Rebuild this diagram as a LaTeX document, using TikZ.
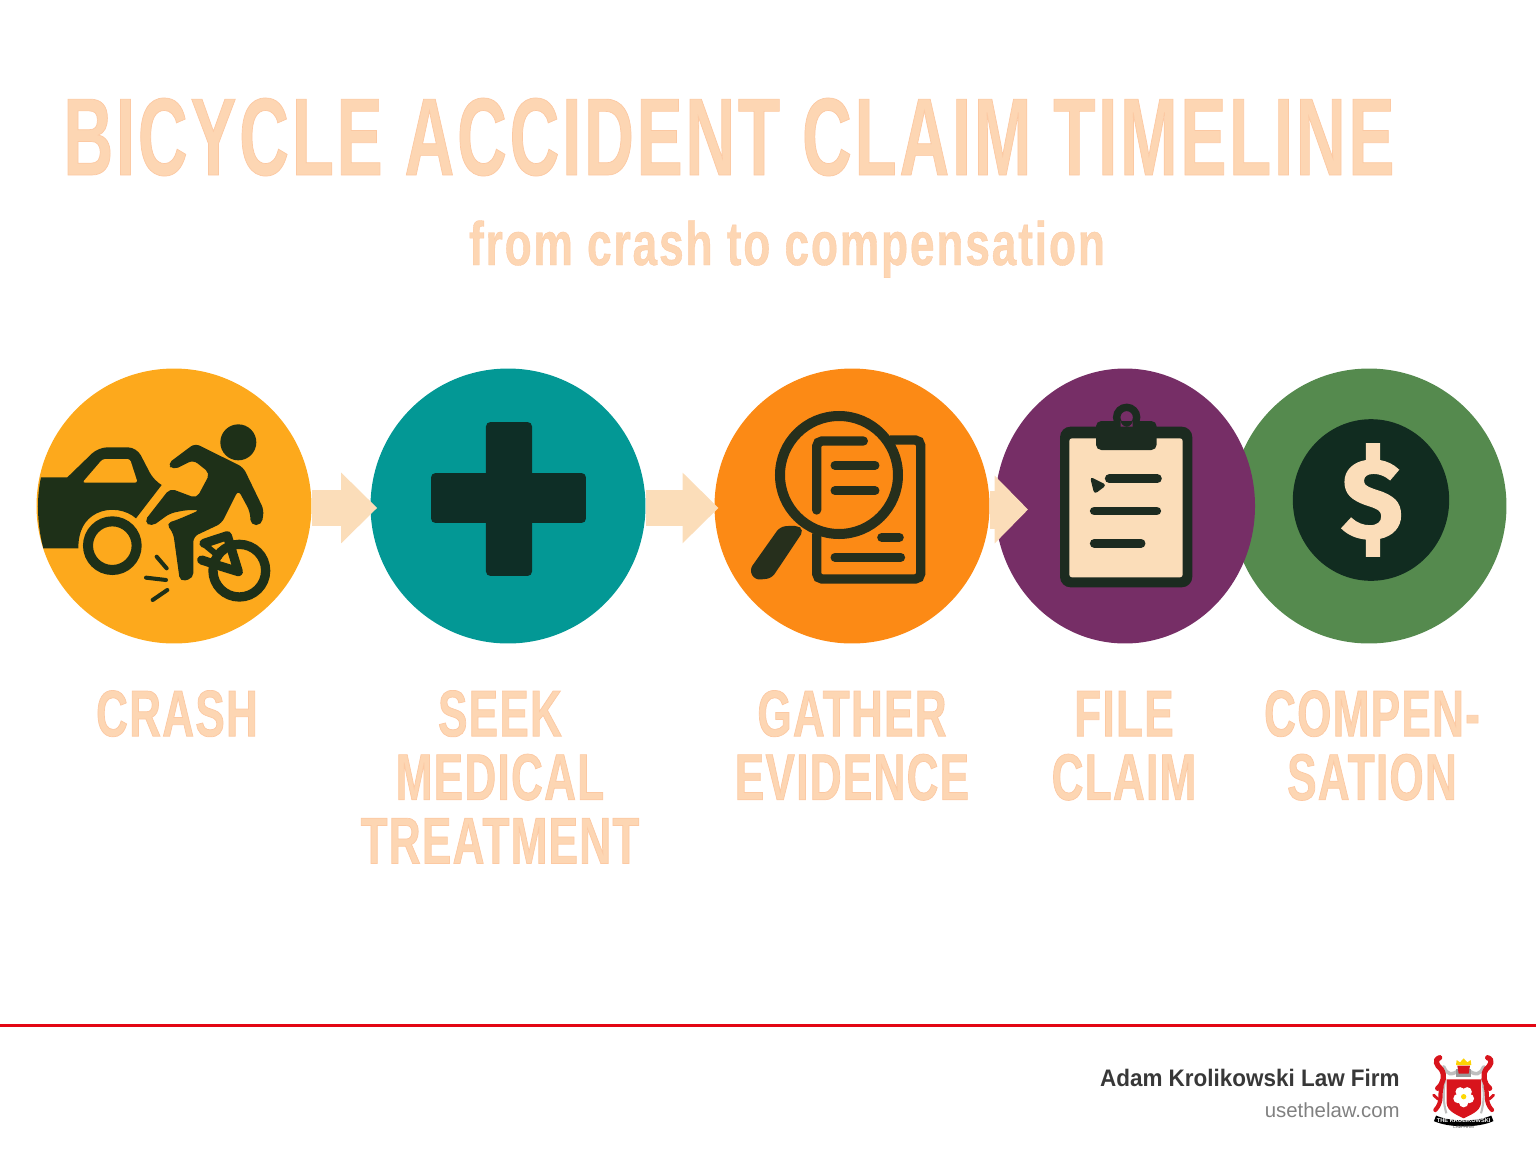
\documentclass[tikz,border=0pt]{standalone}
\usepackage{fontspec}
\setmainfont{Liberation Sans}
\newfontfamily\titlefont[FakeStretch=0.625,LetterSpace=2.5]{Liberation Sans}
\newfontfamily\subfont[FakeStretch=0.72,LetterSpace=3]{Liberation Sans}
\newfontfamily\condfont[FakeStretch=0.67,LetterSpace=2]{Liberation Sans}
\newfontfamily\firmfont[FakeStretch=0.94]{Liberation Sans}
\newfontfamily\signfont{Fira Sans}
\usetikzlibrary{arrows.meta,shapes.geometric}

\definecolor{crashfill}{HTML}{FDA91C}
\definecolor{medicalfill}{HTML}{039895}
\definecolor{evidencefill}{HTML}{FC8A15}
\definecolor{claimfill}{HTML}{762E66}
\definecolor{payfill}{HTML}{558A4E}
\definecolor{crashdark}{HTML}{1E3018}
\definecolor{medicaldark}{HTML}{0E2E26}
\definecolor{evidencedark}{HTML}{262F1C}
\definecolor{claimdark}{HTML}{1C2B20}
\definecolor{paydark}{HTML}{112C20}
\definecolor{peach}{HTML}{FBDDB9}
\definecolor{headline}{HTML}{FDD6B3}
\definecolor{rulered}{HTML}{E30613}
\definecolor{crestred}{HTML}{D8141C}

\newcommand{\rimon}{\special{pdf:code 2 Tr 0.4 w 0.99 0.79 0.64 RG}}
\newcommand{\rimthin}{\special{pdf:code 2 Tr 0.2 w 0.99 0.79 0.64 RG}}
\newcommand{\rimsign}{\special{pdf:code 2 Tr 0.8 w 0.984 0.867 0.725 RG}}
\newcommand{\rimoff}{\special{pdf:code 0 Tr}}

\tikzset{
	stepcircle/.style = {circle, inner sep = 0pt, minimum size = 156.5pt},
	flow/.style = {draw = peach, line width = 20pt, -{Triangle[length = 20.5pt, width = 39pt]}},
	steplabel/.style = {anchor = north, inner sep = 0pt, align = center, text = headline,
		font = \condfont\bfseries\fontsize{37.4}{36.2}\selectfont},
	zoomed/.style = {x = 0.006667cm, y = -0.006667cm},
	bar/.style = {line width = 5.1pt, line cap = round}
}

\begin{document}
\begin{tikzpicture}[x = 0.02cm, y = -0.02cm]
	\useasboundingbox (0,0) rectangle (1536,1154);

	% title
	\node[anchor = base, inner sep = 0pt, text = headline] (title) at (729,175)
		{\titlefont\bfseries\fontsize{62.8}{62.8}\selectfont\rimon BICYCLE ACCIDENT CLAIM TIMELINE\rimoff};
	\node[anchor = base, inner sep = 0pt, text = headline] (subtitle) at (787,265)
		{\subfont\bfseries\fontsize{35}{35}\selectfont\rimthin from crash to compensation\rimoff};

	% circles, last one first
	\node[stepcircle, fill = payfill] (pay) at (1369,506) {};
	\node[ellipse, inner sep = 0pt, minimum width = 148pt, minimum height = 156.5pt, fill = claimfill] (claim) at (1125,506) {};
	\node[stepcircle, fill = crashfill] (crash) at (174,506) {};
	\node[stepcircle, fill = medicalfill] (medical) at (508,506) {};
	\node[stepcircle, fill = evidencefill] (evidence) at (852,506) {};

	% arrows
	\draw[flow, shorten > = -4pt] ([yshift = -1.1pt]crash.east) -- ([yshift = -1.1pt]medical.west);
	\draw[flow, shorten > = -2.5pt] ([yshift = -1.1pt]medical.east) -- ([yshift = -1.1pt]evidence.west);
	\draw[flow, line width = 21.6pt, -{Triangle[length = 19pt, width = 37.5pt]}, shorten > = -19pt] ([yshift = -2pt]evidence.east) -- ([yshift = -2pt]claim.west);

	% crash icon
	\begin{scope}[shift = {(30,360)}, zoomed, fill = crashdark, draw = crashdark]
		\fill (33,352) -- (112,352) [rounded corners = 5pt] -- (205,262) -- (320,262) -- (372,362) [sharp corners] -- (395,375) -- (318,475)
			.. controls (290,450) and (240,440) .. (200,460) .. controls (165,478) and (145,510) .. (145,565)
			-- (40,565) .. controls (20,490) and (20,410) .. (33,352) -- cycle;
		\fill[crashfill, rounded corners = 1.5pt] (157,368) -- (218,297) -- (300,297) -- (323,368) -- cycle;
		\draw[line width = 5.7pt] (247,557) circle (73);
		\fill (625,247) circle (54);
		\fill[rounded corners = 3pt] (412,312) -- (495,250) -- (640,322) -- (702,450) -- (695,495) -- (662,495) -- (660,455)
			-- (625,390) -- (575,490) -- (490,530) -- (490,655) -- (450,665) -- (430,520) -- (408,490) -- (440,480)
			-- (510,450) -- (470,450) -- (420,460) -- (365,500) -- (342,485) -- (420,385) -- (500,415)
			-- (540,340) -- (490,300) -- (430,330) -- cycle;
		\draw[line width = 5.3pt] (628,632) circle (79);
		\draw[line width = 5.2pt, line join = round, line cap = round] (522,550) -- (592,527) -- (625,635) -- (570,618) -- (515,600);
		\draw[line width = 3.4pt, line cap = round] (525,555) -- (568,590);
		\draw[line width = 2.3pt, line cap = round] (380,590) -- (410,625);
		\draw[line width = 2.3pt, line cap = round] (348,653) -- (408,660);
		\draw[line width = 2.3pt, line cap = round] (368,720) -- (412,690);
	\end{scope}

	% medical icon
	\node[fill = medicaldark, rounded corners = 2.5pt, minimum width = 88.2pt, minimum height = 28.4pt, inner sep = 0pt] (crossh) at (508.5,498) {};
	\node[fill = medicaldark, rounded corners = 2.5pt, minimum width = 26.2pt, minimum height = 87.6pt, inner sep = 0pt] (crossv) at (509,499) {};

	% evidence icon
	\begin{scope}[shift = {(700,360)}, zoomed, draw = evidencedark, fill = evidencedark]
		\draw[line width = 5.7pt] (417,345) circle (177);
		\fill[rounded corners = 3pt] (240,500) -- (290,496) -- (312,510) -- (215,655) -- (165,660) -- (148,630) -- cycle;
		\draw[line width = 5.3pt, rounded corners = 3pt] (570,240) -- (662,240) -- (662,657) -- (350,657) -- (350,520);
		\draw[line width = 5.3pt, line cap = round, rounded corners = 3pt] (350,450) -- (350,243) -- (490,243);
		\draw[bar] (405,316) -- (525,316);
		\draw[bar] (405,392) -- (525,392);
		\draw[bar] (545,532) -- (598,532);
		\draw[bar] (405,592) -- (602,592);
	\end{scope}

	% claim icon
	\begin{scope}[shift = {(1000,360)}, zoomed, draw = claimdark, fill = claimdark]
		\fill[rounded corners = 6pt] (180,200) rectangle (577,682);
		\fill[peach, rounded corners = 1.5pt] (208,235) rectangle (548,652);
		\draw[line width = 4.2pt] (380,172) circle (30);
		\fill[rounded corners = 3pt] (288,183) rectangle (470,270);
		\fill[claimfill] (362,200) -- (362,182) arc (180:0:18) -- (398,200) -- cycle;
		\fill[rounded corners = 2pt] (270,350) -- (320,375) -- (283,403) -- cycle;
		\draw[bar] (328,356) -- (472,356);
		\draw[bar] (283,453) -- (470,453);
		\draw[bar] (283,550) -- (423,550);
	\end{scope}

	% pay icon
	\node[ellipse, inner sep = 0pt, minimum width = 89pt, minimum height = 92pt, fill = paydark] (coin) at (1371,500) {};
	\node[text = peach, inner sep = 0pt] (sign) at ([xshift = 0.6pt]coin.center) {\signfont\bfseries\fontsize{64.5}{64.5}\selectfont\rimsign\$\rimoff};

	% step labels
	\node[steplabel] (crashlabel) at (177,690) {\rimon CRASH\rimoff};
	\node[steplabel] (medicallabel) at (500,690) {\rimon SEEK\\\rimon MEDICAL\\\rimon TREATMENT\rimoff};
	\node[steplabel] (evidencelabel) at (852,690) {\rimon GATHER\\\rimon EVIDENCE\rimoff};
	\node[steplabel] (claimlabel) at (1124,690) {\rimon\vphantom{S}FILE\\\rimon CLAIM\rimoff};
	\node[steplabel] (paylabel) at (1372,690) {\rimon COMPEN-\\\rimon SATION\rimoff};

	% footer
	\coordinate (ruleleft) at (0,1025);
	\coordinate (ruleright) at (1536,1025);
	\draw[rulered, line width = 1.7pt] (ruleleft) -- (ruleright);
	\node[anchor = base east, inner sep = 0pt, text = black!78] (firm) at (1400,1086)
		{\firmfont\bfseries\fontsize{13.6}{14}\selectfont Adam Krolikowski Law Firm};
	\node[anchor = base east, inner sep = 0pt, text = black!50] (site) at (1400,1117)
		{\fontsize{11.6}{12}\selectfont usethelaw.com};

	% crest
	\begin{scope}[shift = {(1420,1045)}, x = 0.00667cm, y = -0.00667cm]
		\foreach \sgn in {1,-1} {
			\begin{scope}[shift = {(131,0)}, xscale = \sgn]
				\draw[black!25, line width = 2pt, line cap = round] (-60,65) .. controls (-50,90) and (-35,90) .. (-20,80);
				\draw[black!25, line width = 1.2pt] (-55,100) .. controls (-62,140) and (-62,170) .. (-52,205);
				\draw[crestred, line width = 3pt, line cap = round] (-72,38) .. controls (-90,45) and (-80,62) .. (-68,72) .. controls (-55,90) and (-60,115) .. (-78,130);
				\draw[crestred, line width = 2.4pt, line cap = round] (-66,125) .. controls (-74,150) and (-62,170) .. (-85,195);
				\draw[crestred, line width = 1.6pt, line cap = round] (-90,150) .. controls (-80,160) and (-75,165) .. (-68,165);
			\end{scope}
		}
		\fill[black!40] (108,72) rectangle (154,95);
		\fill[crestred] (112,62) -- (150,62) -- (146,86) -- (116,86) -- cycle;
		\fill[yellow!70!orange] (108,60) -- (110,45) -- (120,52) -- (131,40) -- (142,52) -- (152,45) -- (154,60) -- cycle;
		\fill[crestred] (80,103) -- (183,103) -- (183,175) .. controls (180,200) and (150,210) .. (131,220) .. controls (112,210) and (82,200) .. (80,175) -- cycle;
		\foreach \ang in {90,162,234,306,18} {
			\fill[white] (131,155) ++(\ang:18) circle (14);
		}
		\fill[yellow!75!orange] (131,155) circle (8);
		\coordinate (bannerleft) at (45,220);
		\coordinate (bannerright) at (217,220);
		\draw[black, line width = 3.4pt] (bannerleft) .. controls (90,240) and (172,240) .. (bannerright);
		\node[text = white, inner sep = 0pt] (crestname) at (131,227) {\bfseries\fontsize{3.2}{3.2}\selectfont THE KROLIKOWSKI};
		\node[text = black!70, inner sep = 0pt] (crestfirm) at (131,246) {\fontsize{2.4}{2.4}\selectfont LAW FIRM};
	\end{scope}
\end{tikzpicture}
\end{document}
